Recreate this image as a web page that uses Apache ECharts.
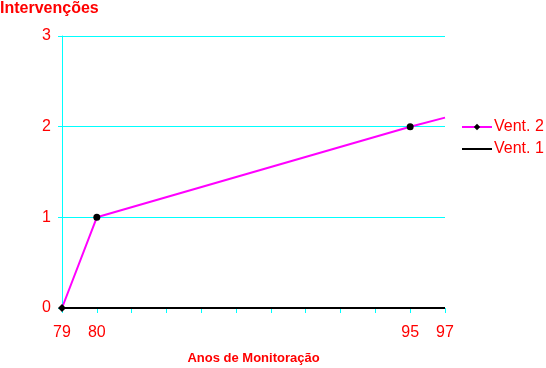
<!DOCTYPE html>
<html><head><meta charset="utf-8">
<script src="https://cdn.jsdelivr.net/npm/echarts@6/dist/echarts.min.js"></script>
<style>html,body{margin:0;padding:0;background:#fff}#c{width:546px;height:368px}</style>
</head><body><div id="c"></div>
<script>
var categories = ['79','80','','','','','','','','','95','97'];
var vent2 = [0, 1, null, null, null, null, null, null, null, null, 2, 2.1];
var vent1 = [0, 0, 0, 0, 0, 0, 0, 0, 0, 0, 0, 0];
var yTicks = [0, 1, 2, 3];

var RED = '#ff0000', CYAN = '#00ffff', MAG = '#ff00ff';
var FONT = 'Liberation Sans, Arial, sans-serif';
var chart = echarts.init(document.getElementById('c'));
chart.setOption({
  animation: false,
  title: { text: 'Intervenções', left: 0, top: 1, padding: 0,
    textStyle: { color: RED, fontSize: 16, fontWeight: 'bold', fontFamily: FONT } },
  legend: { orient: 'vertical', left: 456, top: 114, itemWidth: 30, itemHeight: 8, itemGap: 6,
    textStyle: { color: RED, fontSize: 16, fontFamily: FONT, padding: [0,0,0,-3] },
    data: ['Vent. 2', { name: 'Vent. 1', itemStyle: { opacity: 0 } }] },
  grid: { left: 62, right: 101, top: 36, bottom: 60, outerBoundsMode: 'none' },
  xAxis: {
    type: 'category', data: categories, boundaryGap: false,
    name: 'Anos de Monitoração', nameLocation: 'middle', nameGap: 44,
    nameTextStyle: { color: RED, fontSize: 13, fontWeight: 'bold', fontFamily: FONT },
    axisLine: { lineStyle: { color: CYAN, width: 1 } },
    axisTick: { interval: 0, length: 5, lineStyle: { color: CYAN } },
    axisLabel: { interval: 0, color: RED, fontSize: 16, fontFamily: FONT, margin: 17 },
    splitLine: { show: false }
  },
  yAxis: {
    type: 'value', min: yTicks[0], max: yTicks[yTicks.length-1], interval: 1,
    axisLine: { show: true, lineStyle: { color: CYAN, width: 1 } },
    axisTick: { show: true, length: 4, lineStyle: { color: CYAN } },
    axisLabel: { color: RED, fontSize: 16, fontFamily: FONT, margin: 11 },
    splitLine: { lineStyle: { color: CYAN, width: 1 } }
  },
  series: [
    { name: 'Vent. 2', type: 'line', data: vent2.map(function(v, i){
        if (i === 0) return { value: v, symbol: 'diamond', symbolSize: 8 };
        if (i === vent2.length - 1) return { value: v, symbol: 'none' };
        return { value: v, symbol: 'circle', symbolSize: 7 }; }),
      connectNulls: true, symbol: 'diamond', symbolSize: 8, z: 3,
      lineStyle: { color: MAG, width: 2 }, itemStyle: { color: '#000' } },
    { name: 'Vent. 1', type: 'line', data: vent1, symbol: 'none', z: 2,
      lineStyle: { color: '#000', width: 2 }, itemStyle: { color: '#000' } }
  ]
});
</script></body></html>
